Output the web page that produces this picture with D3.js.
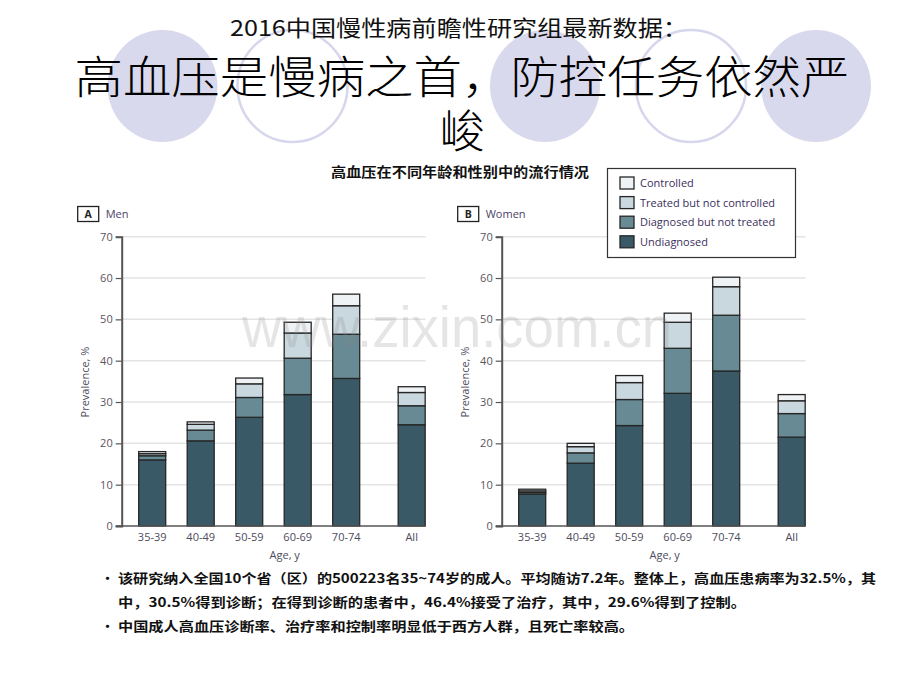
<!DOCTYPE html>
<html><head><meta charset="utf-8">
<script src="https://cdn.jsdelivr.net/npm/d3@7"></script>
<style>
html,body{margin:0;padding:0;background:#fff;}
svg{display:block;}
</style></head>
<body>
<svg id="c" width="920" height="690"></svg>
<script>
// ---- data ----
const categories = ["35-39","40-49","50-59","60-69","70-74","All"];
const seriesNames = ["Undiagnosed","Diagnosed but not treated","Treated but not controlled","Controlled"];
const legendOrder = ["Controlled","Treated but not controlled","Diagnosed but not treated","Undiagnosed"];
const yTicks = [0,10,20,30,40,50,60,70];

const menUndiagnosed = [16.0, 20.6, 26.3, 31.8, 35.7, 24.5];
const menDiagnosedNotTreated = [1.0, 2.6, 4.8, 8.8, 10.7, 4.6];
const menTreatedNotControlled = [0.5, 1.4, 3.3, 6.1, 6.9, 3.2];
const menControlled = [0.5, 0.6, 1.4, 2.6, 2.8, 1.4];

const womenUndiagnosed = [7.7, 15.2, 24.3, 32.1, 37.5, 21.5];
const womenDiagnosedNotTreated = [0.4, 2.5, 6.3, 10.9, 13.5, 5.7];
const womenTreatedNotControlled = [0.4, 1.5, 4.1, 6.3, 6.9, 3.1];
const womenControlled = [0.4, 0.8, 1.7, 2.2, 2.3, 1.5];

const titleTop = "2016中国慢性病前瞻性研究组最新数据：";
const titleLine1 = "高血压是慢病之首，防控任务依然严";
const titleLine2 = "峻";
const chartTitle = "高血压在不同年龄和性别中的流行情况";
const bullets = [
  ["该研究纳入全国10个省（区）的500223名35~74岁的成人。平均随访7.2年。整体上，高血压患病率为32.5%，其",
   "中，30.5%得到诊断；在得到诊断的患者中，46.4%接受了治疗，其中，29.6%得到了控制。"],
  ["中国成人高血压诊断率、治疗率和控制率明显低于西方人群，且死亡率较高。"]
];

// ---- styles ----
const colors = {
  "Undiagnosed":"#3a5966",
  "Diagnosed but not treated":"#688a94",
  "Treated but not controlled":"#c9d8df",
  "Controlled":"#eef2f5"
};
const cjk = "'Noto Sans CJK SC','Noto Sans',sans-serif";
const lat = "'Open Sans','Noto Sans','DejaVu Sans',sans-serif";

const svg = d3.select("#c");

// decorative ellipses
const deco = [
  {cx:162.5, fill:true},{cx:292.5, fill:false},{cx:545, fill:true},{cx:691, fill:false},{cx:816, fill:true}
];
svg.append("g").selectAll("ellipse").data(deco).join("ellipse")
  .attr("cx", d=>d.cx).attr("cy", 86).attr("rx", 55).attr("ry", 56)
  .attr("fill", d=>d.fill ? "#d9d9ee" : "none")
  .attr("stroke", d=>d.fill ? "none" : "#d6d6ec")
  .attr("stroke-width", 2.5);

// titles
svg.append("text").attr("x", 459).attr("y", 36).attr("text-anchor","middle")
  .attr("font-family", cjk).attr("font-size", 22).attr("fill","#111")
  .attr("textLength", 458).attr("lengthAdjust","spacingAndGlyphs").text(titleTop);
svg.append("text").attr("x", 462).attr("y", 94).attr("text-anchor","middle")
  .attr("font-family", cjk).attr("font-weight",300).attr("font-size", 45).attr("fill","#000")
  .attr("textLength", 775).attr("lengthAdjust","spacingAndGlyphs").text(titleLine1);
svg.append("text").attr("x", 462).attr("y", 148).attr("text-anchor","middle")
  .attr("font-family", cjk).attr("font-weight",300).attr("font-size", 45).attr("fill","#000")
  .text(titleLine2);

svg.append("text").attr("x", 460).attr("y", 177).attr("text-anchor","middle")
  .attr("font-family", cjk).attr("font-weight",700).attr("font-size", 13.5).attr("fill","#111")
  .attr("textLength", 258).attr("lengthAdjust","spacingAndGlyphs").text(chartTitle);

// ---- panels ----
const y = d3.scaleLinear().domain([0,70]).range([526, 236.7]);
const ALL_SLOT = 5.35;
const slot = i => i < categories.length - 1 ? i : ALL_SLOT;
const barW = 27;

function panel(axisX, letter, name, series) {
  const g = svg.append("g");
  const xs = d3.scaleLinear().domain([0, 5]).range([axisX + 30.5, axisX + 30.5 + 5 * 48.5]);
  const right = axisX + 304;

  // gridlines
  g.append("g").selectAll("line").data(yTicks.filter(t=>t>0)).join("line")
    .attr("x1", axisX).attr("x2", right).attr("y1", d=>y(d)).attr("y2", d=>y(d))
    .attr("stroke","#e4e4e4").attr("stroke-width",1.5);

  // stacked bars
  const rows = categories.map((c,i)=>{
    const o = {cat:c, i:i};
    seriesNames.forEach((s,k)=>{ o[s] = series[k][i]; });
    return o;
  });
  const stacked = d3.stack().keys(seriesNames)(rows);
  g.append("g").selectAll("g").data(stacked).join("g")
    .attr("fill", d=>colors[d.key])
    .selectAll("rect").data(d=>d).join("rect")
    .attr("x", d=>xs(slot(d.data.i)) - barW/2)
    .attr("width", barW)
    .attr("y", d=>y(d[1]))
    .attr("height", d=>y(d[0]) - y(d[1]))
    .attr("stroke","#262626").attr("stroke-width",1.3);

  // y axis
  const ya = d3.axisLeft(y).tickValues(yTicks).tickSize(6).tickPadding(3);
  const yg = g.append("g").attr("transform",`translate(${axisX},0)`).call(ya);
  yg.select(".domain").attr("stroke","#555").attr("stroke-width",2);
  yg.selectAll(".tick line").attr("stroke","#555").attr("stroke-width",1.2);
  yg.selectAll(".tick text").attr("font-family",lat).attr("font-size",11).attr("fill","#5a5560");

  // x axis baseline
  g.append("line").attr("x1", axisX-6).attr("x2", right).attr("y1", y(0)).attr("y2", y(0))
    .attr("stroke","#555").attr("stroke-width",1.5);
  g.append("g").selectAll("text").data(categories).join("text")
    .attr("x",(d,i)=>xs(slot(i))).attr("y", 541).attr("text-anchor","middle")
    .attr("font-family",lat).attr("font-size",11).attr("fill","#4e4b5c").text(d=>d);
  g.append("text").attr("x", axisX + 163).attr("y", 559).attr("text-anchor","middle")
    .attr("font-family",lat).attr("font-size",11).attr("fill","#4e4b5c").text("Age, y");
  g.append("text").attr("transform",`translate(${axisX-33},382) rotate(-90)`).attr("text-anchor","middle")
    .attr("font-family",lat).attr("font-size",11).attr("fill","#4e4b5c").text("Prevalence, %");

  // panel label
  g.append("rect").attr("x", axisX-44).attr("y", 206.5).attr("width", 21).attr("height", 15)
    .attr("fill","#fff").attr("stroke","#222").attr("stroke-width",1.3);
  g.append("text").attr("x", axisX-33.5).attr("y", 218).attr("text-anchor","middle")
    .attr("font-family",lat).attr("font-weight",700).attr("font-size",10.5).attr("fill","#222").text(letter);
  g.append("text").attr("x", axisX-16).attr("y", 218)
    .attr("font-family",lat).attr("font-size",11).attr("fill","#4a3f66").text(name);
}

panel(121.7, "A", "Men", [menUndiagnosed, menDiagnosedNotTreated, menTreatedNotControlled, menControlled]);
panel(501.7, "B", "Women", [womenUndiagnosed, womenDiagnosedNotTreated, womenTreatedNotControlled, womenControlled]);

// legend
const lg = svg.append("g");
lg.append("rect").attr("x",607.5).attr("y",168.5).attr("width",188).attr("height",89)
  .attr("fill","#fff").attr("stroke","#333").attr("stroke-width",1.2);
const li = lg.selectAll("g.li").data(legendOrder).join("g").attr("class","li")
  .attr("transform",(d,i)=>`translate(620,${177 + i*19.6})`);
li.append("rect").attr("width",14).attr("height",12).attr("fill",d=>colors[d])
  .attr("stroke","#262626").attr("stroke-width",1.3);
li.append("text").attr("x",20).attr("y",10).attr("font-family",lat).attr("font-size",11)
  .attr("fill","#3b2f5c").text(d=>d);

// watermark
svg.append("text").attr("x", 457).attr("y", 347).attr("text-anchor","middle")
  .attr("font-family","'Liberation Sans',Arial,sans-serif").attr("font-size",58)
  .attr("fill","#888").attr("fill-opacity",0.22)
  .attr("textLength", 430).attr("lengthAdjust","spacingAndGlyphs").text("www.zixin.com.cn");

// bullets
const bl = svg.append("g").attr("font-family",cjk).attr("font-weight",700).attr("font-size",13).attr("fill","#111");
let line = 0;
const lens = [[758, 628],[516]];
bullets.forEach((b,bi)=>{
  bl.append("text").attr("x",101).attr("y",583 + line*24).text("•");
  b.forEach((t,ti)=>{
    bl.append("text").attr("x",118).attr("y",583 + line*24)
      .attr("textLength", lens[bi][ti]).attr("lengthAdjust","spacingAndGlyphs").text(t);
    line++;
  });
});
</script>
</body></html>
